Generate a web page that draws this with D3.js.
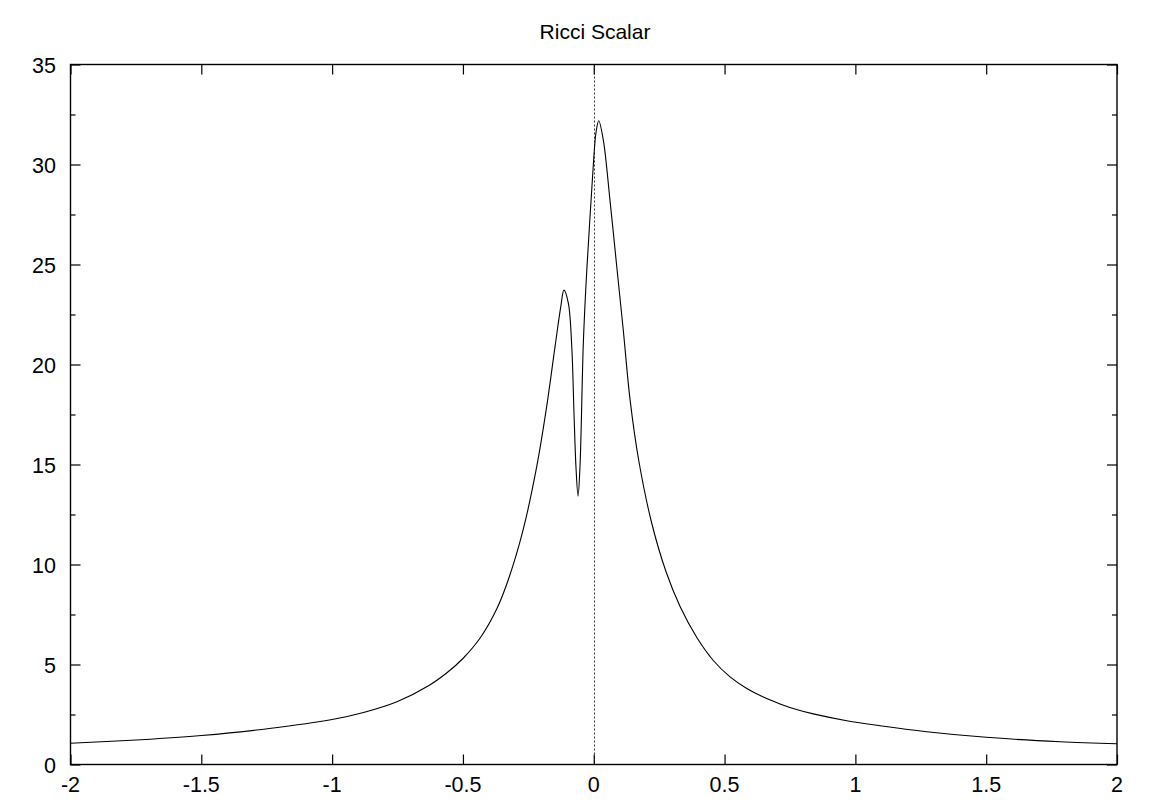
<!DOCTYPE html>
<html>
<head>
<meta charset="utf-8">
<script src="https://cdn.jsdelivr.net/npm/d3@7"></script>
<style>
  html, body { margin: 0; padding: 0; background: #fff; }
  svg { display: block; }
  text { font-family: "Liberation Sans", Arial, Helvetica, sans-serif; fill: #000; }
</style>
</head>
<body>
<svg id="chart" width="1154" height="807"></svg>
<script>
const chartTitle = "Ricci Scalar";
const xValues = [-2, -1.73, -1.5, -1.24, -1, -0.88, -0.75, -0.63, -0.56, -0.5, -0.435, -0.37, -0.325, -0.27, -0.218, -0.18, -0.148, -0.126, -0.114, -0.097, -0.084, -0.0755, -0.068, -0.060, -0.0526, -0.040, -0.030, -0.017, -0.004, 0.0086, 0.019, 0.0366, 0.062, 0.088, 0.113, 0.139, 0.172, 0.221, 0.276, 0.33, 0.394, 0.457, 0.521, 0.585, 0.65, 0.712, 0.775, 0.839, 0.967, 1.094, 1.273, 1.5, 1.782, 2];
const yValues = [1.06, 1.24, 1.45, 1.8, 2.25, 2.6, 3.15, 3.95, 4.6, 5.3, 6.31, 7.8, 9.3, 11.73, 14.89, 17.89, 20.89, 22.89, 23.72, 23.06, 20.89, 17.56, 14.89, 13.42, 14.89, 21.0, 23.9, 26.8, 29.5, 31.6, 32.19, 31.22, 28.22, 24.89, 21.7, 18.22, 15.2, 12.1, 9.65, 7.9, 6.35, 5.2, 4.38, 3.8, 3.36, 3.03, 2.75, 2.53, 2.19, 1.94, 1.64, 1.36, 1.14, 1.04];
const xTicks = [-2, -1.5, -1, -0.5, 0, 0.5, 1, 1.5, 2];
const yTicks = [0, 5, 10, 15, 20, 25, 30, 35];
const yMinorTicks = [2.5, 7.5, 12.5, 17.5, 22.5, 27.5, 32.5];

const svg = d3.select("#chart");
const L = 70.5, R = 1117, T = 64.5, B = 764.5;
const x = d3.scaleLinear().domain([-2, 2]).range([L, R]);
const y = d3.scaleLinear().domain([0, 35]).range([B, T]);

const data = xValues.map((v, i) => ({ x: v, y: yValues[i] }));

// zero axis (dotted)
svg.append("line")
  .attr("x1", Math.round(x(0)) + 0.5).attr("x2", Math.round(x(0)) + 0.5)
  .attr("y1", T).attr("y2", B)
  .attr("stroke", "#000").attr("stroke-width", 0.8)
  .attr("stroke-dasharray", "2,2");

// curve
const line = d3.line().x(d => x(d.x)).y(d => y(d.y)).curve(d3.curveCatmullRom.alpha(0.5));
svg.append("path").datum(data)
  .attr("d", line)
  .attr("fill", "none").attr("stroke", "#000").attr("stroke-width", 1.1);

// axes with mirrored ticks
const fmt = d => String(d);
const gBottom = svg.append("g").attr("transform", `translate(0,${B})`)
  .call(d3.axisTop(x).tickValues(xTicks).tickSize(10).tickFormat(""));
const gTop = svg.append("g").attr("transform", `translate(0,${T})`)
  .call(d3.axisBottom(x).tickValues(xTicks).tickSize(10).tickFormat(""));
const gLeft = svg.append("g").attr("transform", `translate(${L},0)`)
  .call(d3.axisRight(y).tickValues(yTicks).tickSize(10).tickFormat(""));
const gRight = svg.append("g").attr("transform", `translate(${R},0)`)
  .call(d3.axisLeft(y).tickValues(yTicks).tickSize(10).tickFormat(""));
const gLeftMinor = svg.append("g").attr("transform", `translate(${L},0)`)
  .call(d3.axisRight(y).tickValues(yMinorTicks).tickSize(5).tickFormat(""));
const gRightMinor = svg.append("g").attr("transform", `translate(${R},0)`)
  .call(d3.axisLeft(y).tickValues(yMinorTicks).tickSize(5).tickFormat(""));
[gBottom, gTop, gLeft, gRight, gLeftMinor, gRightMinor].forEach(g => {
  g.select(".domain").remove();
  g.selectAll(".tick line").attr("stroke", "#000").attr("stroke-width", 1.2);
});

// tick labels
svg.append("g").selectAll("text").data(xTicks).join("text")
  .attr("x", d => x(d)).attr("y", 792)
  .attr("text-anchor", "middle").attr("font-size", 21.5)
  .text(fmt);
svg.append("g").selectAll("text").data(yTicks).join("text")
  .attr("x", 56).attr("y", d => y(d) + 8)
  .attr("text-anchor", "end").attr("font-size", 21.5)
  .text(fmt);

// frame
svg.append("rect")
  .attr("x", L).attr("y", T).attr("width", R - L).attr("height", B - T)
  .attr("fill", "none").attr("stroke", "#000").attr("stroke-width", 1.4);

// title
svg.append("text").attr("x", 595).attr("y", 39)
  .attr("text-anchor", "middle").attr("font-size", 21)
  .text(chartTitle);
</script>
</body>
</html>
